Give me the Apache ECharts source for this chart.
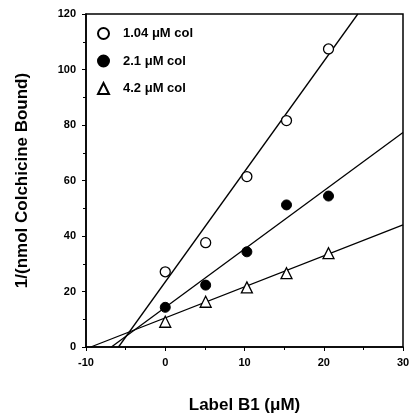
<!DOCTYPE html>
<html>
<head>
<meta charset="utf-8">
<script src="https://cdn.jsdelivr.net/npm/echarts@6/dist/echarts.min.js"></script>
<style>
  html, body { margin: 0; padding: 0; background: #fff; }
  #chart { width: 411px; height: 419px; }
</style>
</head>
<body>
<div id="chart"></div>
<script>
// concentrations of label B1 (uM)
const labelB1 = [0, 5.1, 10.3, 15.3, 20.6]

// 1/(nmol colchicine bound) for each colchicine level
const col104 = [27.1, 37.6, 61.4, 81.6, 107.4]
const col21 = [14.3, 22.3, 34.3, 51.2, 54.4]
const col42 = [9.1, 16.3, 21.5, 26.6, 33.8]

// fitted lines, two end points each [x, y]
const fit104 = [[-5.9, 0], [24.3, 120]]
const fit21 = [[-6.8, 0], [30, 77.3]]
const fit42 = [[-9.4, 0], [30, 44]]

const seriesNames = ['1.04 \u03bcM col', '2.1 \u03bcM col', '4.2 \u03bcM col']

const font = 'Liberation Sans, Arial, sans-serif'

function pts (ys) {
  return labelB1.map((x, i) => [x, ys[i]])
}

function fitLine (data) {
  return {
    type: 'line',
    data: data,
    symbol: 'none',
    silent: true,
    lineStyle: { color: '#000', width: 1.3 },
    z: 1
  }
}

let chart = echarts.init(document.getElementById('chart'))

chart.setOption({
  animation: false,
  backgroundColor: '#fff',
  grid: { left: 86, right: 8, top: 14, bottom: 72, containLabel: false, outerBoundsMode: 'none' },
  legend: {
    data: seriesNames,
    orient: 'vertical',
    left: 92,
    top: 22,
    itemGap: 14.5,
    itemWidth: 11,
    itemHeight: 11,
    textStyle: { fontFamily: font, fontWeight: 'bold', fontSize: 13, color: '#000', padding: [0, 0, 0, 9] }
  },
  xAxis: {
    type: 'value',
    min: -10,
    max: 30,
    interval: 10,
    name: 'Label B1 (\u03bcM)',
    nameLocation: 'middle',
    nameGap: 50,
    nameTextStyle: { fontFamily: font, fontWeight: 'bold', fontSize: 17, color: '#000' },
    axisLine: { onZero: false, lineStyle: { color: '#000', width: 1.5 } },
    axisTick: { inside: false, length: 4, lineStyle: { color: '#000' } },
    minorTick: { show: true, splitNumber: 2, length: 3, lineStyle: { color: '#000' } },
    axisLabel: { fontFamily: font, fontWeight: 'bold', fontSize: 11, color: '#000', margin: 10 },
    splitLine: { show: false }
  },
  yAxis: {
    type: 'value',
    min: 0,
    max: 120,
    interval: 20,
    name: '1/(nmol Colchicine Bound)',
    nameLocation: 'middle',
    nameGap: 55,
    nameTextStyle: { fontFamily: font, fontWeight: 'bold', fontSize: 17, color: '#000' },
    axisLine: { onZero: false, lineStyle: { color: '#000', width: 1.5 } },
    axisTick: { inside: false, length: 4, lineStyle: { color: '#000' } },
    minorTick: { show: true, splitNumber: 2, length: 3, lineStyle: { color: '#000' } },
    axisLabel: { fontFamily: font, fontWeight: 'bold', fontSize: 11, color: '#000', margin: 10 },
    splitLine: { show: false }
  },
  graphic: [{
    type: 'rect',
    shape: { x: 86, y: 14, width: 317, height: 333 },
    style: { fill: 'none', stroke: '#000', lineWidth: 1.5 },
    silent: true
  }],
  series: [
    fitLine(fit104),
    fitLine(fit21),
    fitLine(fit42),
    {
      name: seriesNames[0],
      type: 'scatter',
      data: pts(col104),
      symbol: 'circle',
      symbolSize: 10,
      itemStyle: { color: '#fff', borderColor: '#000', borderWidth: 1.3, opacity: 1 },
      z: 3
    },
    {
      name: seriesNames[1],
      type: 'scatter',
      data: pts(col21),
      symbol: 'circle',
      symbolSize: 10,
      itemStyle: { color: '#000', borderColor: '#000', borderWidth: 1, opacity: 1 },
      z: 3
    },
    {
      name: seriesNames[2],
      type: 'scatter',
      data: pts(col42),
      symbol: 'triangle',
      symbolSize: 11,
      itemStyle: { color: '#fff', borderColor: '#000', borderWidth: 1.3, opacity: 1 },
      z: 3
    }
  ]
})
</script>
</body>
</html>
